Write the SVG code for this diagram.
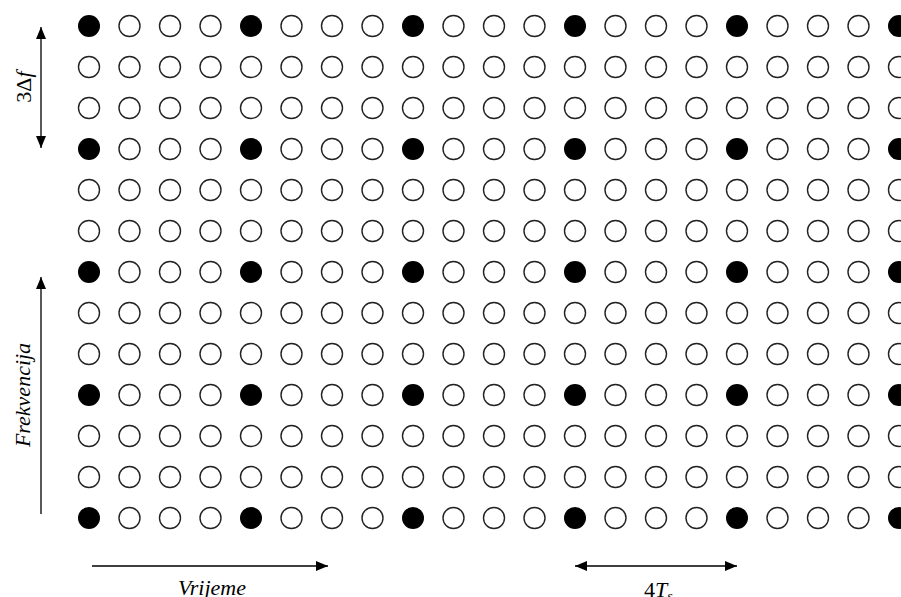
<svg xmlns="http://www.w3.org/2000/svg" width="901" height="597" viewBox="0 0 901 597">
<defs>
<style>
.o{fill:#fff;stroke:#222;stroke-width:1.4}
.f{fill:#000}
.ln{stroke:#000;stroke-width:1.3;fill:none}
.t{font-family:"Liberation Serif",serif;font-size:22px;fill:#000}
.i{font-style:italic}
</style>
<marker id="ah" viewBox="0 0 12 10" refX="12" refY="5" markerWidth="12" markerHeight="10" markerUnits="userSpaceOnUse" orient="auto-start-reverse"><path d="M0,0 L12,5 L0,10 Z" fill="#000"/></marker>
<circle id="c" r="10.5" class="o"/>
<circle id="d" r="11" class="f"/>
</defs>
<rect width="901" height="597" fill="#fff"/>
<g id="grid">
<g id="r0"><use href="#d" x="89" y="26"/><use href="#c" x="129.5" y="26"/><use href="#c" x="170" y="26"/><use href="#c" x="210.5" y="26"/><use href="#d" x="251" y="26"/><use href="#c" x="291.5" y="26"/><use href="#c" x="332" y="26"/><use href="#c" x="372.5" y="26"/><use href="#d" x="413" y="26"/><use href="#c" x="453.5" y="26"/><use href="#c" x="494" y="26"/><use href="#c" x="534.5" y="26"/><use href="#d" x="575" y="26"/><use href="#c" x="615.5" y="26"/><use href="#c" x="656" y="26"/><use href="#c" x="696.5" y="26"/><use href="#d" x="737" y="26"/><use href="#c" x="777.5" y="26"/><use href="#c" x="818" y="26"/><use href="#c" x="858.5" y="26"/><use href="#d" x="899" y="26"/></g>
<g id="r1"><use href="#c" x="89" y="67"/><use href="#c" x="129.5" y="67"/><use href="#c" x="170" y="67"/><use href="#c" x="210.5" y="67"/><use href="#c" x="251" y="67"/><use href="#c" x="291.5" y="67"/><use href="#c" x="332" y="67"/><use href="#c" x="372.5" y="67"/><use href="#c" x="413" y="67"/><use href="#c" x="453.5" y="67"/><use href="#c" x="494" y="67"/><use href="#c" x="534.5" y="67"/><use href="#c" x="575" y="67"/><use href="#c" x="615.5" y="67"/><use href="#c" x="656" y="67"/><use href="#c" x="696.5" y="67"/><use href="#c" x="737" y="67"/><use href="#c" x="777.5" y="67"/><use href="#c" x="818" y="67"/><use href="#c" x="858.5" y="67"/><use href="#c" x="899" y="67"/></g>
<g id="r2"><use href="#c" x="89" y="108"/><use href="#c" x="129.5" y="108"/><use href="#c" x="170" y="108"/><use href="#c" x="210.5" y="108"/><use href="#c" x="251" y="108"/><use href="#c" x="291.5" y="108"/><use href="#c" x="332" y="108"/><use href="#c" x="372.5" y="108"/><use href="#c" x="413" y="108"/><use href="#c" x="453.5" y="108"/><use href="#c" x="494" y="108"/><use href="#c" x="534.5" y="108"/><use href="#c" x="575" y="108"/><use href="#c" x="615.5" y="108"/><use href="#c" x="656" y="108"/><use href="#c" x="696.5" y="108"/><use href="#c" x="737" y="108"/><use href="#c" x="777.5" y="108"/><use href="#c" x="818" y="108"/><use href="#c" x="858.5" y="108"/><use href="#c" x="899" y="108"/></g>
<g id="r3"><use href="#d" x="89" y="149"/><use href="#c" x="129.5" y="149"/><use href="#c" x="170" y="149"/><use href="#c" x="210.5" y="149"/><use href="#d" x="251" y="149"/><use href="#c" x="291.5" y="149"/><use href="#c" x="332" y="149"/><use href="#c" x="372.5" y="149"/><use href="#d" x="413" y="149"/><use href="#c" x="453.5" y="149"/><use href="#c" x="494" y="149"/><use href="#c" x="534.5" y="149"/><use href="#d" x="575" y="149"/><use href="#c" x="615.5" y="149"/><use href="#c" x="656" y="149"/><use href="#c" x="696.5" y="149"/><use href="#d" x="737" y="149"/><use href="#c" x="777.5" y="149"/><use href="#c" x="818" y="149"/><use href="#c" x="858.5" y="149"/><use href="#d" x="899" y="149"/></g>
<g id="r4"><use href="#c" x="89" y="190"/><use href="#c" x="129.5" y="190"/><use href="#c" x="170" y="190"/><use href="#c" x="210.5" y="190"/><use href="#c" x="251" y="190"/><use href="#c" x="291.5" y="190"/><use href="#c" x="332" y="190"/><use href="#c" x="372.5" y="190"/><use href="#c" x="413" y="190"/><use href="#c" x="453.5" y="190"/><use href="#c" x="494" y="190"/><use href="#c" x="534.5" y="190"/><use href="#c" x="575" y="190"/><use href="#c" x="615.5" y="190"/><use href="#c" x="656" y="190"/><use href="#c" x="696.5" y="190"/><use href="#c" x="737" y="190"/><use href="#c" x="777.5" y="190"/><use href="#c" x="818" y="190"/><use href="#c" x="858.5" y="190"/><use href="#c" x="899" y="190"/></g>
<g id="r5"><use href="#c" x="89" y="231"/><use href="#c" x="129.5" y="231"/><use href="#c" x="170" y="231"/><use href="#c" x="210.5" y="231"/><use href="#c" x="251" y="231"/><use href="#c" x="291.5" y="231"/><use href="#c" x="332" y="231"/><use href="#c" x="372.5" y="231"/><use href="#c" x="413" y="231"/><use href="#c" x="453.5" y="231"/><use href="#c" x="494" y="231"/><use href="#c" x="534.5" y="231"/><use href="#c" x="575" y="231"/><use href="#c" x="615.5" y="231"/><use href="#c" x="656" y="231"/><use href="#c" x="696.5" y="231"/><use href="#c" x="737" y="231"/><use href="#c" x="777.5" y="231"/><use href="#c" x="818" y="231"/><use href="#c" x="858.5" y="231"/><use href="#c" x="899" y="231"/></g>
<g id="r6"><use href="#d" x="89" y="272"/><use href="#c" x="129.5" y="272"/><use href="#c" x="170" y="272"/><use href="#c" x="210.5" y="272"/><use href="#d" x="251" y="272"/><use href="#c" x="291.5" y="272"/><use href="#c" x="332" y="272"/><use href="#c" x="372.5" y="272"/><use href="#d" x="413" y="272"/><use href="#c" x="453.5" y="272"/><use href="#c" x="494" y="272"/><use href="#c" x="534.5" y="272"/><use href="#d" x="575" y="272"/><use href="#c" x="615.5" y="272"/><use href="#c" x="656" y="272"/><use href="#c" x="696.5" y="272"/><use href="#d" x="737" y="272"/><use href="#c" x="777.5" y="272"/><use href="#c" x="818" y="272"/><use href="#c" x="858.5" y="272"/><use href="#d" x="899" y="272"/></g>
<g id="r7"><use href="#c" x="89" y="313"/><use href="#c" x="129.5" y="313"/><use href="#c" x="170" y="313"/><use href="#c" x="210.5" y="313"/><use href="#c" x="251" y="313"/><use href="#c" x="291.5" y="313"/><use href="#c" x="332" y="313"/><use href="#c" x="372.5" y="313"/><use href="#c" x="413" y="313"/><use href="#c" x="453.5" y="313"/><use href="#c" x="494" y="313"/><use href="#c" x="534.5" y="313"/><use href="#c" x="575" y="313"/><use href="#c" x="615.5" y="313"/><use href="#c" x="656" y="313"/><use href="#c" x="696.5" y="313"/><use href="#c" x="737" y="313"/><use href="#c" x="777.5" y="313"/><use href="#c" x="818" y="313"/><use href="#c" x="858.5" y="313"/><use href="#c" x="899" y="313"/></g>
<g id="r8"><use href="#c" x="89" y="354"/><use href="#c" x="129.5" y="354"/><use href="#c" x="170" y="354"/><use href="#c" x="210.5" y="354"/><use href="#c" x="251" y="354"/><use href="#c" x="291.5" y="354"/><use href="#c" x="332" y="354"/><use href="#c" x="372.5" y="354"/><use href="#c" x="413" y="354"/><use href="#c" x="453.5" y="354"/><use href="#c" x="494" y="354"/><use href="#c" x="534.5" y="354"/><use href="#c" x="575" y="354"/><use href="#c" x="615.5" y="354"/><use href="#c" x="656" y="354"/><use href="#c" x="696.5" y="354"/><use href="#c" x="737" y="354"/><use href="#c" x="777.5" y="354"/><use href="#c" x="818" y="354"/><use href="#c" x="858.5" y="354"/><use href="#c" x="899" y="354"/></g>
<g id="r9"><use href="#d" x="89" y="395"/><use href="#c" x="129.5" y="395"/><use href="#c" x="170" y="395"/><use href="#c" x="210.5" y="395"/><use href="#d" x="251" y="395"/><use href="#c" x="291.5" y="395"/><use href="#c" x="332" y="395"/><use href="#c" x="372.5" y="395"/><use href="#d" x="413" y="395"/><use href="#c" x="453.5" y="395"/><use href="#c" x="494" y="395"/><use href="#c" x="534.5" y="395"/><use href="#d" x="575" y="395"/><use href="#c" x="615.5" y="395"/><use href="#c" x="656" y="395"/><use href="#c" x="696.5" y="395"/><use href="#d" x="737" y="395"/><use href="#c" x="777.5" y="395"/><use href="#c" x="818" y="395"/><use href="#c" x="858.5" y="395"/><use href="#d" x="899" y="395"/></g>
<g id="r10"><use href="#c" x="89" y="436"/><use href="#c" x="129.5" y="436"/><use href="#c" x="170" y="436"/><use href="#c" x="210.5" y="436"/><use href="#c" x="251" y="436"/><use href="#c" x="291.5" y="436"/><use href="#c" x="332" y="436"/><use href="#c" x="372.5" y="436"/><use href="#c" x="413" y="436"/><use href="#c" x="453.5" y="436"/><use href="#c" x="494" y="436"/><use href="#c" x="534.5" y="436"/><use href="#c" x="575" y="436"/><use href="#c" x="615.5" y="436"/><use href="#c" x="656" y="436"/><use href="#c" x="696.5" y="436"/><use href="#c" x="737" y="436"/><use href="#c" x="777.5" y="436"/><use href="#c" x="818" y="436"/><use href="#c" x="858.5" y="436"/><use href="#c" x="899" y="436"/></g>
<g id="r11"><use href="#c" x="89" y="477"/><use href="#c" x="129.5" y="477"/><use href="#c" x="170" y="477"/><use href="#c" x="210.5" y="477"/><use href="#c" x="251" y="477"/><use href="#c" x="291.5" y="477"/><use href="#c" x="332" y="477"/><use href="#c" x="372.5" y="477"/><use href="#c" x="413" y="477"/><use href="#c" x="453.5" y="477"/><use href="#c" x="494" y="477"/><use href="#c" x="534.5" y="477"/><use href="#c" x="575" y="477"/><use href="#c" x="615.5" y="477"/><use href="#c" x="656" y="477"/><use href="#c" x="696.5" y="477"/><use href="#c" x="737" y="477"/><use href="#c" x="777.5" y="477"/><use href="#c" x="818" y="477"/><use href="#c" x="858.5" y="477"/><use href="#c" x="899" y="477"/></g>
<g id="r12"><use href="#d" x="89" y="518"/><use href="#c" x="129.5" y="518"/><use href="#c" x="170" y="518"/><use href="#c" x="210.5" y="518"/><use href="#d" x="251" y="518"/><use href="#c" x="291.5" y="518"/><use href="#c" x="332" y="518"/><use href="#c" x="372.5" y="518"/><use href="#d" x="413" y="518"/><use href="#c" x="453.5" y="518"/><use href="#c" x="494" y="518"/><use href="#c" x="534.5" y="518"/><use href="#d" x="575" y="518"/><use href="#c" x="615.5" y="518"/><use href="#c" x="656" y="518"/><use href="#c" x="696.5" y="518"/><use href="#d" x="737" y="518"/><use href="#c" x="777.5" y="518"/><use href="#c" x="818" y="518"/><use href="#c" x="858.5" y="518"/><use href="#d" x="899" y="518"/></g>
</g>
<g id="connectors">
<line class="ln" x1="41" y1="27" x2="41" y2="148" marker-start="url(#ah)" marker-end="url(#ah)"/>
<line class="ln" x1="41" y1="514" x2="41" y2="277" marker-end="url(#ah)"/>
<line class="ln" x1="92" y1="566" x2="328" y2="566" marker-end="url(#ah)"/>
<line class="ln" x1="575" y1="566" x2="737" y2="566" marker-start="url(#ah)" marker-end="url(#ah)"/>
</g>
<g id="labels">
<text class="t" transform="translate(31,87) rotate(-90)" text-anchor="middle">3Δ<tspan class="i">f</tspan></text>
<text class="t i" transform="translate(30,395) rotate(-90)" text-anchor="middle">Frekvencija</text>
<text class="t i" x="212" y="595" text-anchor="middle">Vrijeme</text>
<text class="t" x="644" y="597">4<tspan class="i">T</tspan><tspan class="i" font-size="14" dy="4">s</tspan></text>
</g>
</svg>
